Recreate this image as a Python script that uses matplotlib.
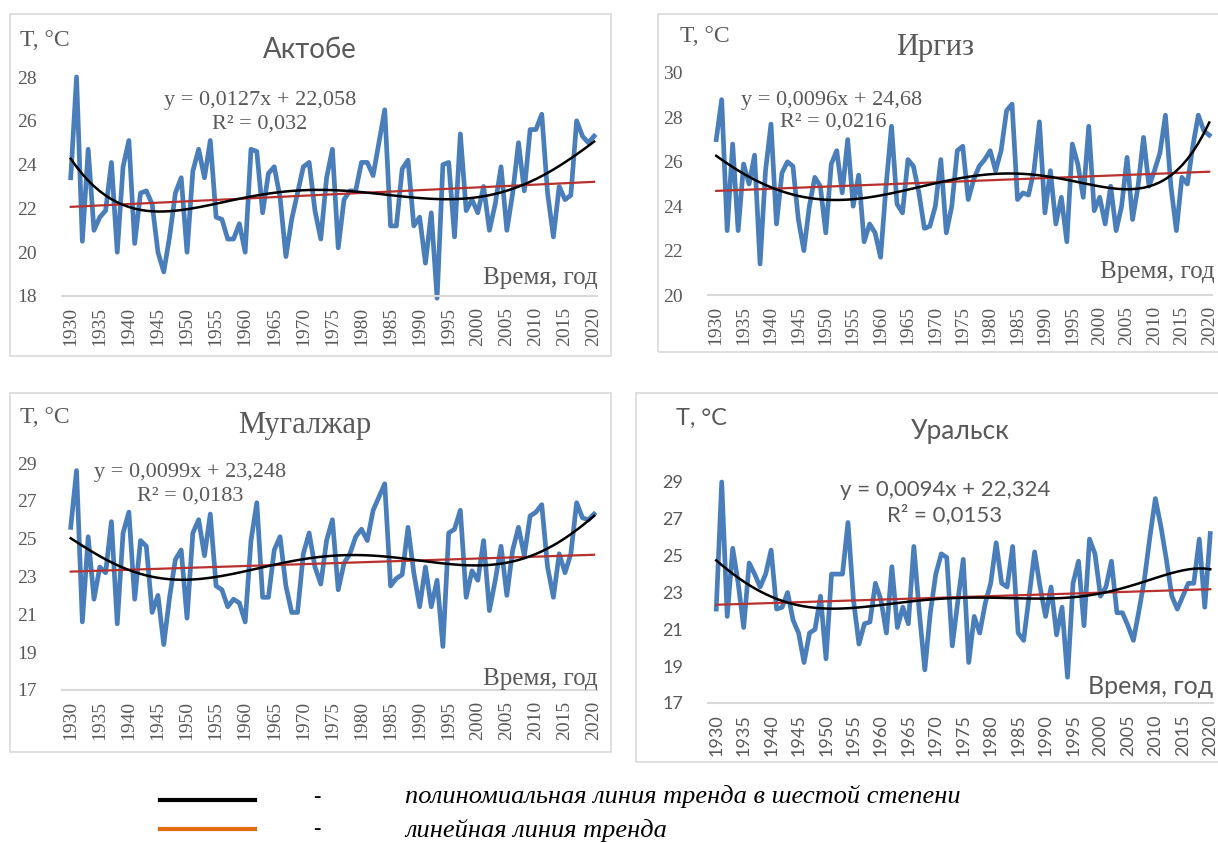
import numpy as np
import matplotlib
matplotlib.use("Agg")
import matplotlib.pyplot as plt

years = np.arange(1930, 2021)
year_ticks = np.arange(1930, 2021, 5)

aktobe = [23.4, 28.0, 20.5, 24.7, 21.0, 21.6, 21.9, 24.1, 20.0, 23.9,
          25.1, 20.4, 22.7, 22.8, 22.2, 20.0, 19.1, 20.7, 22.7, 23.4,
          20.0, 23.7, 24.7, 23.4, 25.1, 21.6, 21.5, 20.6, 20.6, 21.3,
          20.0, 24.7, 24.6, 21.8, 23.6, 23.9, 22.5, 19.8, 21.5, 22.7,
          23.9, 24.1, 21.9, 20.6, 23.4, 24.7, 20.2, 22.4, 22.8, 22.8,
          24.1, 24.1, 23.5, 25.0, 26.5, 21.2, 21.2, 23.8, 24.2, 21.2,
          21.6, 19.5, 21.8, 17.9, 24.0, 24.1, 20.7, 25.4, 21.9, 22.4,
          21.8, 23.0, 21.0, 22.2, 23.9, 21.0, 22.7, 25.0, 22.8, 25.6,
          25.6, 26.3, 22.7, 20.7, 23.0, 22.4, 22.6, 26.0, 25.3, 25.0,
          25.3]

irgiz = [27.0, 28.8, 22.9, 26.8, 22.9, 25.9, 25.0, 26.3, 21.4, 25.6,
         27.7, 23.2, 25.5, 26.0, 25.8, 23.4, 22.0, 24.0, 25.3, 24.9,
         22.8, 25.9, 26.5, 24.6, 27.0, 24.0, 25.4, 22.4, 23.2, 22.8,
         21.7, 24.9, 27.6, 24.1, 23.7, 26.1, 25.8, 24.6, 23.0, 23.1,
         24.0, 26.1, 22.8, 24.0, 26.5, 26.7, 24.3, 25.2, 25.8, 26.1,
         26.5, 25.6, 26.5, 28.3, 28.6, 24.3, 24.6, 24.5, 25.6, 27.8,
         23.7, 25.6, 23.2, 24.4, 22.4, 26.8, 25.9, 24.4, 27.6, 23.8,
         24.4, 23.2, 24.9, 22.9, 24.0, 26.2, 23.4, 24.9, 27.1, 24.9,
         25.6, 26.4, 28.1, 24.9, 22.9, 25.3, 25.0, 26.7, 28.1, 27.4,
         27.2]

mugalzhar = [25.6, 28.6, 20.6, 25.1, 21.8, 23.5, 23.2, 25.9, 20.5, 25.3,
             26.4, 21.8, 24.9, 24.6, 21.1, 22.0, 19.4, 21.9, 23.9, 24.4,
             20.8, 25.3, 26.0, 24.1, 26.3, 22.5, 22.3, 21.4, 21.8, 21.6,
             20.6, 24.9, 26.9, 21.9, 21.9, 24.4, 25.1, 22.5, 21.1, 21.1,
             24.2, 25.3, 23.5, 22.6, 24.9, 26.0, 22.3, 23.7, 24.2, 25.1,
             25.5, 24.9, 26.5, 27.2, 27.9, 22.5, 22.9, 23.1, 25.6, 23.2,
             21.4, 23.5, 21.4, 22.8, 19.3, 25.3, 25.5, 26.5, 21.9, 23.3,
             22.8, 24.9, 21.2, 22.8, 24.6, 22.0, 24.4, 25.6, 24.1, 26.2,
             26.4, 26.8, 23.5, 21.9, 24.2, 23.2, 24.2, 26.9, 26.1, 26.0,
             26.3]

uralsk = [22.1, 29.0, 21.7, 25.4, 23.5, 21.1, 24.6, 24.0, 23.3, 24.0,
          25.3, 22.1, 22.2, 23.0, 21.5, 20.8, 19.2, 20.8, 21.0, 22.8,
          19.4, 24.0, 24.0, 24.0, 26.8, 22.6, 20.2, 21.3, 21.4, 23.5,
          22.6, 20.8, 24.4, 21.1, 22.2, 21.3, 25.5, 21.9, 18.8, 21.9,
          24.0, 25.1, 24.9, 20.1, 22.5, 24.8, 19.2, 21.7, 20.8, 22.4,
          23.5, 25.7, 23.5, 23.3, 25.5, 20.8, 20.4, 22.8, 25.2, 23.3,
          21.7, 23.3, 20.7, 22.2, 18.4, 23.5, 24.7, 21.2, 25.9, 25.1,
          22.8, 23.3, 24.7, 21.9, 21.9, 21.2, 20.4, 22.0, 23.7, 26.0,
          28.1, 26.6, 24.8, 22.8, 22.1, 22.8, 23.5, 23.5, 25.9, 22.2,
          26.2]

names = ["Актобе", "Иргиз", "Мугалжар", "Уральск"]
slopes = [0.0127, 0.0096, 0.0099, 0.0094]
intercepts = [22.058, 24.68, 23.248, 22.324]
equations = ["y = 0,0127x + 22,058", "y = 0,0096x + 24,68",
             "y = 0,0099x + 23,248", "y = 0,0094x + 22,324"]
r2_texts = ["R² = 0,032", "R² = 0,0216", "R² = 0,0183", "R² = 0,0153"]
y_ranges = [(18, 28), (20, 30), (17, 29), (17, 29)]

W, H = 1218, 843
fig = plt.figure(figsize=(W / 100, H / 100), dpi=100)

GRAY = "#595959"
BLUE = "#4a7ebb"
RED = "#b8312f"
SERIF = "Liberation Serif"
SANS = "Lato"


def fx(x):
    return x / W


def fy(y):
    return 1 - y / H


def txt(x, y, s, size, family, ha="left", **kw):
    fig.text(fx(x), fy(y), s, fontsize=size, family=family, color=GRAY,
             ha=ha, va="center", **kw)


# pixel layout of each panel: frame box, plot area, text anchors
layouts = [
    dict(box=(10, 14, 611, 356), plot=(62, 77, 597, 296), font=SERIF, tfont=SANS, tsize=20,
         t=(20, 40), title=(310, 50), eq=(260, 100), r2=(260, 124), time=(598, 278)),
    dict(box=(658, 14, 1222, 352), plot=(708, 73, 1212, 295), font=SERIF, tfont=SERIF, tsize=22,
         t=(680, 36), title=(935, 47), eq=(832, 100), r2=(833, 122), time=(1215, 272)),
    dict(box=(10, 393, 611, 752), plot=(62, 463, 597, 690), font=SERIF, tfont=SERIF, tsize=22,
         t=(20, 418), title=(305, 425), eq=(190, 473), r2=(190, 496), time=(598, 679)),
    dict(box=(636, 393, 1222, 762), plot=(708, 482, 1213, 703), font=SANS, tfont=SANS, tsize=19,
         t=(676, 418), title=(960, 432), eq=(945, 490), r2=(945, 515), time=(1213, 686)),
]

series = [aktobe, irgiz, mugalzhar, uralsk]
xi = np.arange(1, len(years) + 1)

for k in range(4):
    L = layouts[k]
    x0, y0, x1, y1 = L["box"]
    fig.patches.append(plt.Rectangle((fx(x0), fy(y1)), fx(x1 - x0), (y1 - y0) / H,
                                     transform=fig.transFigure, fill=False,
                                     edgecolor="#d9d9d9", lw=1.2))
    px0, py0, px1, py1 = L["plot"]
    ax = fig.add_axes([fx(px0), fy(py1), fx(px1 - px0), (py1 - py0) / H])
    ax.patch.set_alpha(0)
    vals = np.array(series[k])

    ax.plot(years, vals, color=BLUE, lw=3.4, clip_on=False, solid_joinstyle="round")
    lin = slopes[k] * xi + intercepts[k]
    ax.plot(years, lin, color=RED, lw=1.6, clip_on=False)
    poly = np.polynomial.Polynomial.fit(xi, vals, 6)
    ax.plot(years, poly(xi), color="black", lw=1.8, clip_on=False)

    lo, hi = y_ranges[k]
    ax.set_xlim(1928.5, 2020.5)
    ax.set_ylim(lo, hi)
    ax.set_yticks(np.arange(lo, hi + 1, 2))
    ax.set_xticks(year_ticks)
    ax.tick_params(length=0)
    ax.tick_params(axis="y", pad=18)
    ax.tick_params(axis="x", pad=8, labelrotation=90)
    fsize = 14 if L["font"] == SERIF else 13
    for lab in ax.get_xticklabels() + ax.get_yticklabels():
        lab.set_family(L["font"])
        lab.set_fontsize(fsize)
        lab.set_color(GRAY)
    for s in ["top", "right", "left"]:
        ax.spines[s].set_visible(False)
    ax.spines["bottom"].set_color("#d9d9d9")
    ax.spines["bottom"].set_linewidth(1.5)

    txt(*L["t"], "T, °C", 17, L["font"])
    txt(*L["title"], names[k], L["tsize"], L["tfont"], ha="center")
    txt(*L["eq"], equations[k], 16, L["font"], ha="center")
    txt(*L["r2"], r2_texts[k], 16, L["font"], ha="center")
    txt(*L["time"], "Время, год", 18, L["font"], ha="right")

# legend at the bottom
fig.add_artist(plt.Line2D([fx(160), fx(255)], [fy(800), fy(800)],
                          transform=fig.transFigure, color="black", lw=3))
fig.add_artist(plt.Line2D([fx(160), fx(255)], [fy(829), fy(829)],
                          transform=fig.transFigure, color="#e36c0a", lw=3))
for yy, s in [(797, "полиномиальная линия тренда в шестой степени"),
              (830, "линейная линия тренда")]:
    fig.text(fx(313), fy(yy), "-", fontsize=16, family=SERIF, va="center")
    fig.text(fx(405), fy(yy), s, fontsize=19, family=SERIF, style="italic",
             va="center")

fig.savefig("out.png", dpi=100)
